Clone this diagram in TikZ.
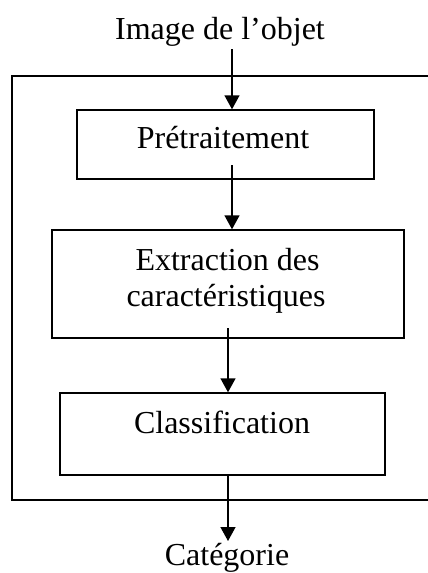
\documentclass[tikz,border=0pt]{standalone}
\usepackage{fontspec}
\setmainfont{Liberation Serif}
\usetikzlibrary{arrows.meta}
\tikzset{
  boxnode/.style={draw=black, line width=1.4pt, inner sep=0pt},
  lbl/.style={anchor=base, inner sep=0pt, font=\fontsize{32}{38}\selectfont},
  arr/.style={line width=1.4pt, -{Triangle[length=14pt,width=15pt]}},
  frame/.style={line width=1.5pt}
}
\begin{document}
\begin{tikzpicture}[x=1pt,y=-1pt]
\useasboundingbox (0,0) rectangle (428,573);
% outer frame (open on the right)
\coordinate (fTR) at (428,76);
\coordinate (fTL) at (12,76);
\coordinate (fBL) at (12,500);
\coordinate (fBR) at (428,500);
\draw[frame] (fTR) -- (fTL) -- (fBL) -- (fBR);
% boxes
\node[boxnode, minimum width=297pt, minimum height=69pt] (b1) at (225.5,144.5) {};
\node[boxnode, minimum width=352pt, minimum height=108pt] (b2) at (228,284) {};
\node[boxnode, minimum width=325pt, minimum height=82pt] (b3) at (222.5,434) {};
% texts
\node[lbl] (tin) at (220,39) {Image de l’objet};
\node[lbl] (t1) at (223,148) {Prétraitement};
\node[lbl] (t2a) at (227.5,270) {Extraction des};
\node[lbl] (t2b) at (226,306) {caractéristiques};
\node[lbl] (t3) at (222,433) {Classification};
\node[lbl] (tout) at (227,565) {Catégorie};
% connectors
\coordinate (a1s) at (232,49);
\coordinate (a2s) at (232,165);
\coordinate (a3s) at (228,328);
\coordinate (a4s) at (228,475);
\coordinate (a4e) at (228,541);
\draw[arr] (a1s) -- (a1s |- b1.north);
\draw[arr] (a2s) -- (a2s |- b2.north);
\draw[arr] (a3s) -- (a3s |- b3.north);
\draw[arr] (a4s) -- (a4e);
\end{tikzpicture}
\end{document}
